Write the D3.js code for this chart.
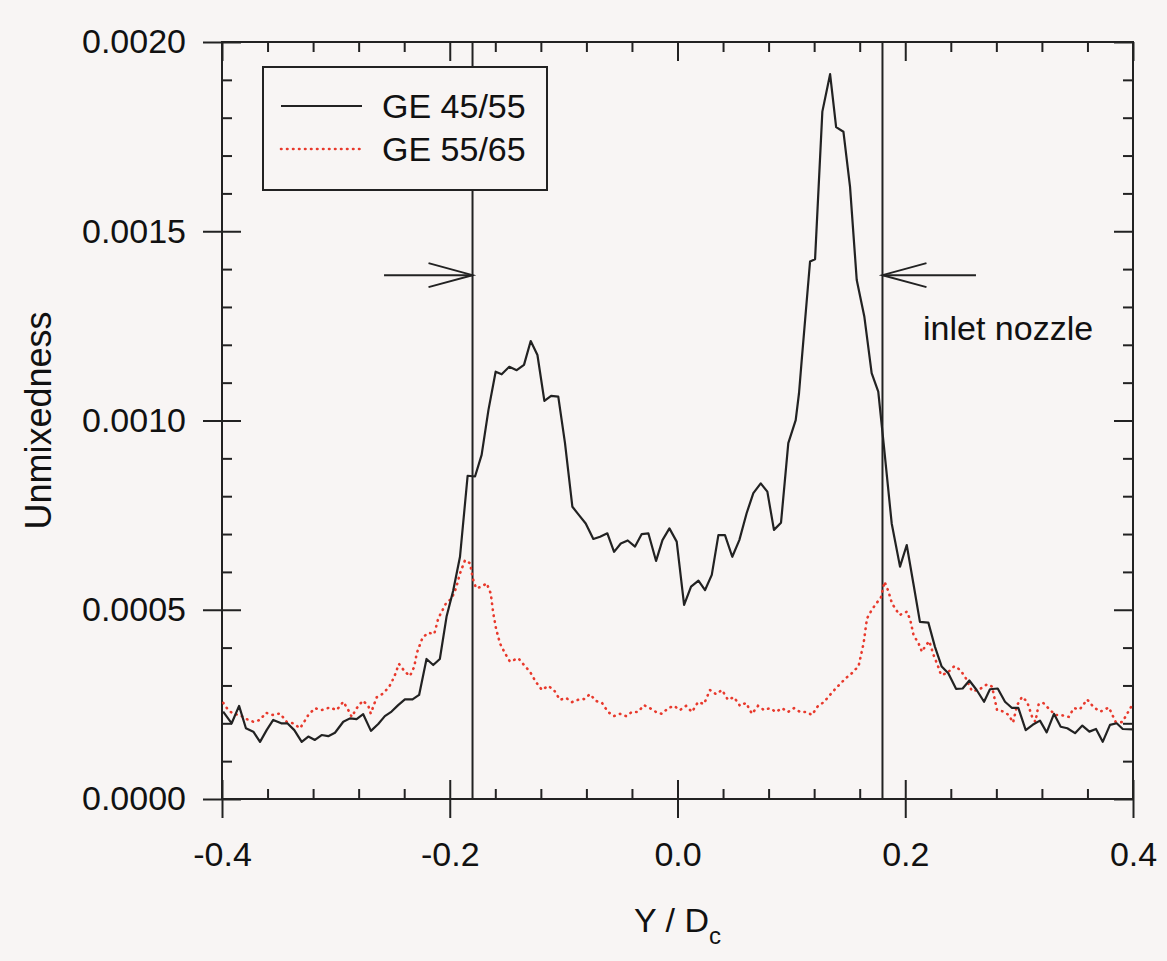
<!DOCTYPE html>
<html>
<head>
<meta charset="utf-8">
<script src="https://cdn.jsdelivr.net/npm/d3@7"></script>
<style>
  html, body { margin: 0; padding: 0; background: #f8f5f4; }
  svg { display: block; font-family: "Liberation Sans", Arial, sans-serif; }
</style>
</head>
<body>
<svg id="chart" width="1167" height="961"></svg>
<script>
// GE 45/55 (solid black) - [Y/Dc, unmixedness]
const ge4555 = [
  [-0.399, 0.000231], [-0.3915, 0.000200], [-0.385, 0.000246], [-0.379, 0.000187],
  [-0.3725, 0.000178], [-0.3666, 0.000151], [-0.3608, 0.000182], [-0.355, 0.000209],
  [-0.348, 0.000200], [-0.3426, 0.000200], [-0.3365, 0.000182], [-0.330, 0.000151],
  [-0.3242, 0.000165], [-0.3184, 0.000156], [-0.3125, 0.000169], [-0.3067, 0.000166],
  [-0.3008, 0.000175], [-0.2935, 0.000204], [-0.2876, 0.000213], [-0.2818, 0.000211],
  [-0.276, 0.000224], [-0.2692, 0.000180], [-0.2628, 0.000198], [-0.257, 0.000219],
  [-0.2511, 0.000231], [-0.2453, 0.000248], [-0.2394, 0.000263], [-0.2327, 0.000263],
  [-0.2269, 0.000275], [-0.2204, 0.000370], [-0.2145, 0.000354], [-0.2087, 0.000370],
  [-0.2028, 0.000482], [-0.197, 0.000550], [-0.191, 0.000640], [-0.1843, 0.000854],
  [-0.1778, 0.000852], [-0.172, 0.000909], [-0.166, 0.001028], [-0.1597, 0.001129],
  [-0.1544, 0.001122], [-0.1477, 0.001142], [-0.1412, 0.001133], [-0.1348, 0.001147],
  [-0.1289, 0.001210], [-0.123, 0.001173], [-0.1169, 0.001052], [-0.111, 0.001065],
  [-0.1047, 0.001063], [-0.0988, 0.000940], [-0.0923, 0.000772], [-0.0865, 0.000750],
  [-0.0806, 0.000728], [-0.0739, 0.000687], [-0.068, 0.000693], [-0.0616, 0.000702],
  [-0.0557, 0.000653], [-0.0498, 0.000675], [-0.0437, 0.000683], [-0.0373, 0.000667],
  [-0.0314, 0.000700], [-0.0256, 0.000702], [-0.0188, 0.000629], [-0.0132, 0.000684],
  [-0.0071, 0.000715], [-0.0007, 0.000680], [0.0058, 0.000513], [0.0119, 0.000561],
  [0.0184, 0.000577], [0.0242, 0.000552], [0.0301, 0.000592], [0.0359, 0.000697],
  [0.0417, 0.000697], [0.0481, 0.000640], [0.0543, 0.000684], [0.0607, 0.000755],
  [0.0666, 0.000808], [0.0731, 0.000834], [0.0789, 0.000812], [0.0847, 0.000711],
  [0.0909, 0.000730], [0.0973, 0.000940], [0.1038, 0.001001], [0.1067, 0.001072],
  [0.1091, 0.001160], [0.1164, 0.001420], [0.1208, 0.001426], [0.1272, 0.001816],
  [0.1340, 0.001915], [0.1393, 0.001775], [0.1457, 0.001763], [0.1515, 0.001618],
  [0.1574, 0.001371], [0.1641, 0.001274], [0.1705, 0.001125], [0.1763, 0.001076],
  [0.1813, 0.000931], [0.1881, 0.000728], [0.1954, 0.000614], [0.2013, 0.000671],
  [0.2071, 0.000570], [0.2129, 0.000468], [0.2203, 0.000466], [0.2261, 0.000402],
  [0.2320, 0.000350], [0.2378, 0.000332], [0.2446, 0.000291], [0.2504, 0.000292],
  [0.2563, 0.000313], [0.2627, 0.000288], [0.2692, 0.000257], [0.2744, 0.000290],
  [0.2812, 0.000292], [0.2876, 0.000257], [0.2935, 0.000241], [0.2993, 0.000241],
  [0.3058, 0.000182], [0.3119, 0.000196], [0.3183, 0.000207], [0.3242, 0.000176],
  [0.3306, 0.000225], [0.3365, 0.000191], [0.3423, 0.000187], [0.3491, 0.000174],
  [0.3555, 0.000194], [0.3617, 0.000178], [0.3675, 0.000185], [0.3734, 0.000151],
  [0.3798, 0.000196], [0.3857, 0.000200], [0.3910, 0.000185], [0.3998, 0.000184]
];

// GE 55/65 (red dotted)
const ge5565 = [
  [-0.3989, 0.000254], [-0.3945, 0.000235], [-0.3901, 0.000225], [-0.3842, 0.000222],
  [-0.3783, 0.000211], [-0.3725, 0.000204], [-0.3666, 0.000209], [-0.3614, 0.000228],
  [-0.3555, 0.000222], [-0.3491, 0.000226], [-0.3432, 0.000204], [-0.3374, 0.000200],
  [-0.3315, 0.000187], [-0.3286, 0.000200], [-0.3242, 0.000222], [-0.3184, 0.000240],
  [-0.3125, 0.000235], [-0.3052, 0.000242], [-0.2993, 0.000235], [-0.2935, 0.000257],
  [-0.2891, 0.000235], [-0.2861, 0.000217], [-0.2817, 0.000240], [-0.2764, 0.000260],
  [-0.2715, 0.000246], [-0.2694, 0.000226], [-0.2641, 0.000269], [-0.2584, 0.000279],
  [-0.2531, 0.000297], [-0.2487, 0.000323], [-0.2446, 0.000357], [-0.2393, 0.000336],
  [-0.2349, 0.000325], [-0.2311, 0.000350], [-0.2290, 0.000385], [-0.2238, 0.000427],
  [-0.2188, 0.000439], [-0.2136, 0.000436], [-0.2101, 0.000477], [-0.2033, 0.000517],
  [-0.1983, 0.000530], [-0.1945, 0.000557], [-0.1910, 0.000596], [-0.1866, 0.000631],
  [-0.1822, 0.000623], [-0.1798, 0.000583], [-0.1769, 0.000557], [-0.1719, 0.000561],
  [-0.1676, 0.000570], [-0.1640, 0.000543], [-0.1618, 0.000491], [-0.1594, 0.000451],
  [-0.1559, 0.000411], [-0.1515, 0.000385], [-0.1471, 0.000363], [-0.1398, 0.000372],
  [-0.1348, 0.000354], [-0.1295, 0.000336], [-0.1243, 0.000309], [-0.1190, 0.000288],
  [-0.1137, 0.000299], [-0.1085, 0.000288], [-0.1032, 0.000262], [-0.0979, 0.000267],
  [-0.0926, 0.000256], [-0.0874, 0.000262], [-0.0821, 0.000264], [-0.0768, 0.000277],
  [-0.0716, 0.000259], [-0.0663, 0.000254], [-0.0610, 0.000230], [-0.0558, 0.000219],
  [-0.0505, 0.000225], [-0.0452, 0.000219], [-0.0400, 0.000230], [-0.0347, 0.000230],
  [-0.0294, 0.000248], [-0.0241, 0.000240], [-0.0189, 0.000230], [-0.0136, 0.000225],
  [-0.0083, 0.000240], [-0.0031, 0.000246], [0.0022, 0.000235], [0.0075, 0.000246],
  [0.0127, 0.000230], [0.0180, 0.000256], [0.0233, 0.000251], [0.0285, 0.000288],
  [0.0338, 0.000277], [0.0391, 0.000288], [0.0443, 0.000262], [0.0496, 0.000269],
  [0.0549, 0.000246], [0.0602, 0.000254], [0.0654, 0.000225], [0.0707, 0.000246],
  [0.0760, 0.000235], [0.0812, 0.000240], [0.0865, 0.000230], [0.0918, 0.000240],
  [0.0970, 0.000230], [0.1023, 0.000240], [0.1076, 0.000230], [0.1128, 0.000230],
  [0.1181, 0.000222], [0.1234, 0.000246], [0.1286, 0.000256], [0.1339, 0.000275],
  [0.1392, 0.000293], [0.1445, 0.000309], [0.1480, 0.000320], [0.1517, 0.000328],
  [0.1590, 0.000351], [0.1634, 0.000411], [0.1664, 0.000477], [0.1708, 0.000501],
  [0.1752, 0.000519], [0.1787, 0.000533], [0.1818, 0.000574], [0.1853, 0.000548],
  [0.1883, 0.000517], [0.1950, 0.000486], [0.2015, 0.000495], [0.2044, 0.000473],
  [0.2073, 0.000433], [0.2117, 0.000411], [0.2147, 0.000389], [0.2176, 0.000404],
  [0.2211, 0.000417], [0.2249, 0.000380], [0.2284, 0.000354], [0.2314, 0.000328],
  [0.2366, 0.000332], [0.2431, 0.000351], [0.2483, 0.000341], [0.2527, 0.000322],
  [0.2586, 0.000285], [0.2644, 0.000288], [0.2718, 0.000303], [0.2762, 0.000297],
  [0.2806, 0.000235], [0.2864, 0.000231], [0.2908, 0.000222], [0.2947, 0.000202],
  [0.2982, 0.000248], [0.3026, 0.000270], [0.3070, 0.000257], [0.3114, 0.000217],
  [0.3143, 0.000204], [0.3172, 0.000251], [0.3211, 0.000254], [0.3266, 0.000237],
  [0.3319, 0.000222], [0.3363, 0.000222], [0.3436, 0.000217], [0.3480, 0.000240],
  [0.3533, 0.000237], [0.3598, 0.000263], [0.3656, 0.000242], [0.3715, 0.000231],
  [0.3788, 0.000242], [0.3847, 0.000204], [0.3906, 0.000203], [0.3950, 0.000226],
  [0.3988, 0.000246]
];

const xMajor = [-0.4, -0.2, 0.0, 0.2, 0.4];
const yMajor = [0, 0.0005, 0.001, 0.0015, 0.002];
const nozzleEdges = [-0.18, 0.18];
const seriesNames = ["GE 45/55", "GE 55/65"];

const width = 1167, height = 961;
const margin = { top: 42, right: 34, bottom: 162, left: 222 };
const ink = "#222";
const red = "#e8392c";

const svg = d3.select("#chart");

const x = d3.scaleLinear().domain([-0.4, 0.4]).range([margin.left, width - margin.right]);
const y = d3.scaleLinear().domain([0, 0.002]).range([height - margin.bottom, margin.top]);

const xMinor = d3.range(-0.4, 0.4001, 0.04).filter(v => !xMajor.some(m => Math.abs(m - v) < 1e-6));
const yMinor = d3.range(0, 0.00201, 0.0001).filter(v => !yMajor.some(m => Math.abs(m - v) < 1e-9));

const style = g => {
  g.select(".domain").remove();
  g.selectAll("line").attr("stroke", ink).attr("stroke-width", 2);
  g.selectAll("text").attr("fill", "#111").attr("font-size", 34);
};

// bottom axis: labels + major ticks crossing the frame
svg.append("g")
  .attr("transform", `translate(0,${y(0)})`)
  .call(d3.axisBottom(x).tickValues(xMajor).tickSize(19).tickPadding(24).tickFormat(d => d.toFixed(1)))
  .call(style);
svg.append("g")
  .attr("transform", `translate(0,${y(0)})`)
  .call(d3.axisBottom(x).tickValues(xMajor).tickSize(-19).tickFormat(""))
  .call(style);
svg.append("g")
  .attr("transform", `translate(0,${y(0)})`)
  .call(d3.axisBottom(x).tickValues(xMinor).tickSize(-10).tickFormat(""))
  .call(style);

// left axis
svg.append("g")
  .attr("transform", `translate(${x(-0.4)},0)`)
  .call(d3.axisLeft(y).tickValues(yMajor).tickSize(19).tickPadding(17).tickFormat(d => d.toFixed(4)))
  .call(style);
svg.append("g")
  .attr("transform", `translate(${x(-0.4)},0)`)
  .call(d3.axisLeft(y).tickValues(yMajor).tickSize(-19).tickFormat(""))
  .call(style);
svg.append("g")
  .attr("transform", `translate(${x(-0.4)},0)`)
  .call(d3.axisLeft(y).tickValues(yMinor).tickSize(-10).tickFormat(""))
  .call(style);

// top and right: inward ticks only
svg.append("g")
  .attr("transform", `translate(0,${y(0.002)})`)
  .call(d3.axisTop(x).tickValues(xMajor).tickSize(-19).tickFormat(""))
  .call(style);
svg.append("g")
  .attr("transform", `translate(0,${y(0.002)})`)
  .call(d3.axisTop(x).tickValues(xMinor).tickSize(-10).tickFormat(""))
  .call(style);
svg.append("g")
  .attr("transform", `translate(${x(0.4)},0)`)
  .call(d3.axisRight(y).tickValues(yMajor).tickSize(-19).tickFormat(""))
  .call(style);
svg.append("g")
  .attr("transform", `translate(${x(0.4)},0)`)
  .call(d3.axisRight(y).tickValues(yMinor).tickSize(-10).tickFormat(""))
  .call(style);

// frame
svg.append("rect")
  .attr("x", x(-0.4)).attr("y", y(0.002))
  .attr("width", x(0.4) - x(-0.4)).attr("height", y(0) - y(0.002))
  .attr("fill", "none").attr("stroke", ink).attr("stroke-width", 2);

// nozzle edge lines
svg.append("g").selectAll("line")
  .data(nozzleEdges)
  .join("line")
  .attr("x1", d => x(d)).attr("x2", d => x(d))
  .attr("y1", y(0)).attr("y2", y(0.002))
  .attr("stroke", ink).attr("stroke-width", 2);

const line = d3.line().x(d => x(d[0])).y(d => y(d[1]));

svg.append("path")
  .datum(ge5565)
  .attr("d", line)
  .attr("fill", "none")
  .attr("stroke", red)
  .attr("stroke-width", 2.6)
  .attr("stroke-linecap", "round")
  .attr("stroke-dasharray", "0.5,5.5");

svg.append("path")
  .datum(ge4555)
  .attr("d", line)
  .attr("fill", "none")
  .attr("stroke", ink)
  .attr("stroke-width", 2.2)
  .attr("stroke-linejoin", "round");

// arrows pointing at the nozzle edges
const arrowY = y(0.001384);
const arrows = [
  { tip: x(-0.18), tail: x(-0.2577), dir: 1 },
  { tip: x(0.18), tail: x(0.2621), dir: -1 }
];
const ag = svg.append("g").attr("stroke", ink).attr("stroke-width", 2).attr("fill", "none");
arrows.forEach(a => {
  ag.append("line").attr("x1", a.tail).attr("x2", a.tip).attr("y1", arrowY).attr("y2", arrowY);
  ag.append("path").attr("d",
    `M${a.tip - a.dir * 44},${arrowY - 12}L${a.tip},${arrowY}L${a.tip - a.dir * 44},${arrowY + 12}`);
});

svg.append("text")
  .attr("x", 923).attr("y", 340)
  .attr("font-size", 34).attr("fill", "#111")
  .text("inlet nozzle");

// legend
const lg = svg.append("g");
lg.append("rect")
  .attr("x", 263).attr("y", 67).attr("width", 284).attr("height", 123)
  .attr("fill", "#f8f5f4").attr("stroke", ink).attr("stroke-width", 2);
const rows = [
  { name: seriesNames[0], color: ink, dash: null, w: 2.2, cy: 106 },
  { name: seriesNames[1], color: red, dash: "0.5,5.5", w: 2.6, cy: 149 }
];
rows.forEach(r => {
  lg.append("line")
    .attr("x1", 281).attr("x2", 362).attr("y1", r.cy).attr("y2", r.cy)
    .attr("stroke", r.color).attr("stroke-width", r.w)
    .attr("stroke-linecap", r.dash ? "round" : "butt")
    .attr("stroke-dasharray", r.dash);
  lg.append("text")
    .attr("x", 382).attr("y", r.cy + 12)
    .attr("font-size", 34).attr("fill", "#111")
    .text(r.name);
});

// axis titles
svg.append("text")
  .attr("transform", `translate(51,${(y(0) + y(0.002)) / 2}) rotate(-90)`)
  .attr("text-anchor", "middle")
  .attr("font-size", 36).attr("fill", "#111")
  .text("Unmixedness");

const xt = svg.append("text")
  .attr("x", x(0)).attr("y", 932)
  .attr("text-anchor", "middle")
  .attr("font-size", 34).attr("fill", "#111");
xt.append("tspan").text("Y / D");
xt.append("tspan").attr("font-size", 24).attr("dy", 12).text("c");
</script>
</body>
</html>
